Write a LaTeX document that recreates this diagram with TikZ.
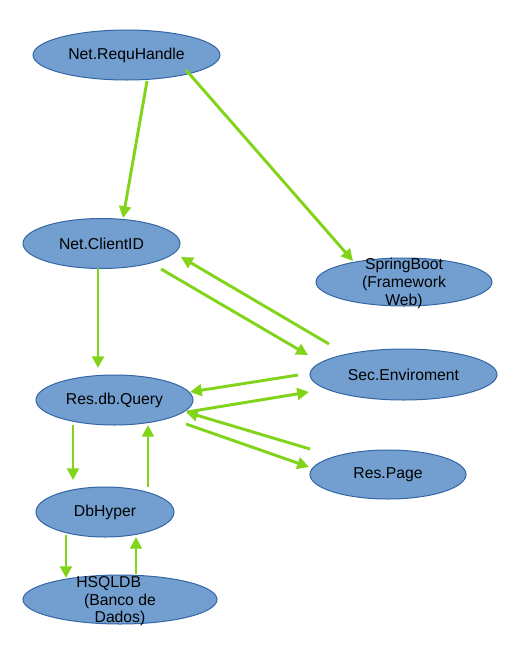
\documentclass[tikz,border=0pt]{standalone}
\usepackage{fontspec}
\setmainfont{Liberation Sans}
\usetikzlibrary{arrows.meta,calc,shapes.geometric}
\definecolor{ellfill}{HTML}{729FCF}
\definecolor{elldraw}{HTML}{3465A4}
\definecolor{edgegreen}{HTML}{81D41A}
\newcommand{\multitext}[1]{\makebox[0pt]{\smash{\raisebox{-4.5pt}{\begin{tabular}{@{}c@{}}#1\end{tabular}}}}}
\begin{document}
\begin{tikzpicture}[x=0.75pt,y=-0.75pt,
  ell/.style={ellipse, draw=elldraw, line width=0.75pt, fill=ellfill, inner sep=0pt,
    font=\fontsize{11.8}{13.2}\selectfont, text=black},
  sz/.style 2 args={minimum width=#1*0.75pt, minimum height=#2*0.75pt},
  conn/.style={draw=edgegreen, line width=2.2pt, -{Triangle[length=8.8pt,width=8.8pt]}}]
\useasboundingbox (0,0) rectangle (521,647);

\node[ell, sz={187}{50}] (rh)  at (126.5,55)   {Net.RequHandle};
\node[ell, sz={157}{50}] (cid) at (101.5,243.5) {Net.ClientID};
\node[ell, sz={176}{48}] (sb)  at (404,282)    {\multitext{SpringBoot\\(Framework\\Web)}};
\node[ell, sz={187}{51}] (se)  at (403.5,374.5) {Sec.Enviroment};
\node[ell, sz={156}{49}] (rp)  at (388,474.5)  {Res.Page};
\node[ell, sz={157}{50}] (q)   at (114.5,400)  {Res.db.Query};
\node[ell, sz={138}{50}] (db)  at (105,512)    {DbHyper};
\node[ell, sz={194}{49}] (hs)  at (120,599.5)  {\multitext{HSQLDB\hspace*{17pt}\\(Banco de\\Dados)}};

\draw[conn] ($(rh)+(20.5,26)$) -- ($(cid)+(21.5,-25.5)$);
\draw[conn] ($(rh)+(59.5,15)$) -- ($(sb)+(-51,-21)$);
\draw[conn] ($(cid)+(-3.5,24.5)$) -- ($(q)+(-16.5,-32)$);
\draw[conn] ($(cid)+(59.5,25.5)$) -- ($(se)+(-95.5,-19.5)$);
\draw[conn] ($(se)+(-74.5,-30.5)$) -- ($(cid)+(79.5,13.5)$);
\draw[conn] ($(se)+(-105.5,0.5)$) -- ($(q)+(75.5,-8)$);
\draw[conn] ($(q)+(72.5,12)$) -- ($(se)+(-94.5,17.5)$);
\draw[conn] ($(rp)+(-78,-25.5)$) -- ($(q)+(71.5,12)$);
\draw[conn] ($(q)+(71.5,24)$) -- ($(rp)+(-79,-7.5)$);
\draw[conn] ($(q)+(-41.5,25)$) -- ($(db)+(-32,-32)$);
\draw[conn] ($(db)+(43,-25)$) -- ($(q)+(33.5,25)$);
\draw[conn] ($(db)+(-39,23)$) -- ($(hs)+(-54,-21.5)$);
\draw[conn] ($(hs)+(16,-25.5)$) -- ($(db)+(31,25)$);
\end{tikzpicture}
\end{document}
